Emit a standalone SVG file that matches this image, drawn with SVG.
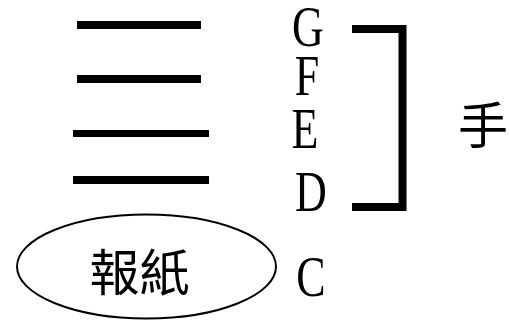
<svg xmlns="http://www.w3.org/2000/svg" width="510" height="320" viewBox="0 0 510 320">
<style>
.bar{fill:#000}
.lt{font-family:"Liberation Serif",serif;font-size:44px;fill:#000;text-anchor:middle}
.cjk{font-family:"Noto Sans CJK TC","Noto Sans CJK JP",sans-serif;fill:#000;text-anchor:middle;dominant-baseline:central}
</style>
<rect width="510" height="320" fill="#fff"/>
<g id="lines">
<rect class="bar" x="77" y="21" width="124" height="8"/>
<rect class="bar" x="77" y="75" width="124" height="8"/>
<rect class="bar" x="73" y="130" width="136" height="7"/>
<rect class="bar" x="73" y="176" width="136" height="8"/>
</g>
<g id="letters">
<text class="lt" transform="translate(308,46) scale(1,1.3)">G</text>
<text class="lt" transform="translate(307,95) scale(1,1.3)">F</text>
<text class="lt" transform="translate(305,148) scale(1,1.3)">E</text>
<text class="lt" transform="translate(311,211) scale(1,1.3)">D</text>
<text class="lt" transform="translate(311,296) scale(1,1.3)">C</text>
</g>
<g id="connectors">
<path d="M352,29 H402.5 V207 H352" fill="none" stroke="#000" stroke-width="8"/>
</g>
<g id="hand">
<text class="cjk" x="483" y="122" font-size="50">手</text>
</g>
<g id="newspaper">
<ellipse cx="146.5" cy="266.5" rx="129.5" ry="52" fill="none" stroke="#000" stroke-width="2"/>
<text class="cjk" x="139.5" y="268.5" font-size="50">報紙</text>
</g>
</svg>
